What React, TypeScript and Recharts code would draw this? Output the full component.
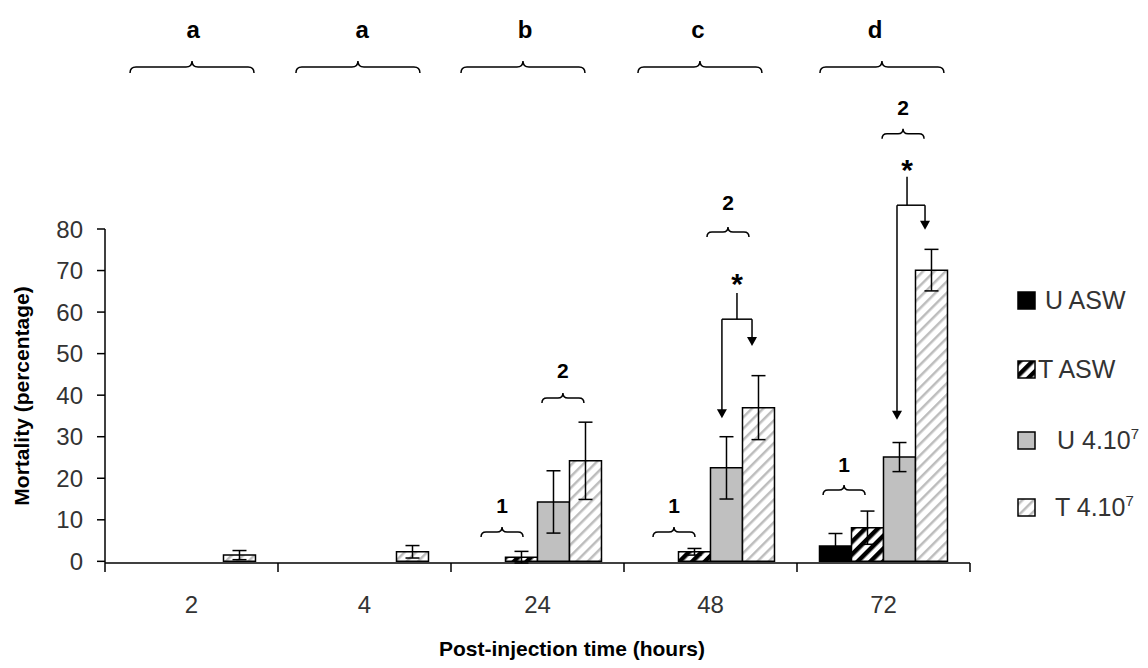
import React from 'react';
import { BarChart, Bar, XAxis, YAxis, ErrorBar, Customized } from 'recharts';

// ---------- data ----------
const categories = ['2', '4', '24', '48', '72'];
const uAswValues = [0, 0, 0, 0, 3.7];
const uAswErrors = [0, 0, 0, 0, 3.0];
const tAswValues = [0, 0, 1.0, 2.3, 8.1];
const tAswErrors = [0, 0, 1.4, 0.8, 4.0];
const u4Values = [0, 0, 14.3, 22.5, 25.1];
const u4Errors = [0, 0, 7.5, 7.5, 3.5];
const t4Values = [1.5, 2.3, 24.2, 37.0, 70.1];
const t4Errors = [1.1, 1.5, 9.3, 7.7, 5.0];
const yTicks = [0, 10, 20, 30, 40, 50, 60, 70, 80];
const groupLetters = ['a', 'a', 'b', 'c', 'd'];
const groupLetterX = [0.509, 1.486, 2.428, 3.428, 4.451];
const groupBraceX = [0.503, 1.462, 2.416, 3.439, 4.491];
// small bracket annotations: label, x (category units), label baseline value, brace value
const pairLabels = ['1', '2', '1', '2', '1', '2'];
const pairX = [2.295, 2.647, 3.289, 3.601, 4.272, 4.613];
const pairLabelY = [12.0, 44.3, 12.0, 84.6, 21.8, 107.3];
const pairBraceY = [7.4, 39.5, 7.4, 79.3, 17.5, 102.8];
// significance arrows
const starX = [3.653, 4.636];
const starBaseY = [64.4, 91.7];
const stemTopY = [64.7, 92.5];
const junctionY = [58.4, 85.7];
const leftArrowX = [3.566, 4.578];
const leftTipY = [34.7, 34.3];
const rightArrowX = [3.740, 4.740];
const rightTipY = [52.0, 79.8];

const seriesNames = ['U ASW', 'T ASW', 'U 4.10', 'T 4.10'];

const data = categories.map((c, i) => ({
  cat: c,
  uAsw: uAswValues[i],
  uAswErr: uAswErrors[i],
  tAsw: tAswValues[i],
  tAswErr: tAswErrors[i],
  u4: u4Values[i],
  u4Err: u4Errors[i],
  t4: t4Values[i],
  t4Err: t4Errors[i],
}));

// ---------- layout ----------
const W = 1132;
const H = 652;
const PLOT_L = 97;
const PLOT_R = 962;
const PLOT_T = 221;
const PLOT_B = 555;
const Y_MAX = 80;
const X_AXIS_H = 40;
const FONT = '"Liberation Sans", Arial, sans-serif';

const xPos = (u: number) => PLOT_L + (u * (PLOT_R - PLOT_L)) / categories.length;
const yPos = (v: number) => PLOT_B - (v * (PLOT_B - PLOT_T)) / Y_MAX;

const bracePath = (cx: number, y: number, hw: number, c: number) =>
  `M ${cx - hw} ${y + c} Q ${cx - hw} ${y} ${cx - hw + c} ${y} L ${cx - c} ${y} Q ${cx} ${y} ${cx} ${y - c} ` +
  `Q ${cx} ${y} ${cx + c} ${y} L ${cx + hw - c} ${y} Q ${cx + hw} ${y} ${cx + hw} ${y + c}`;

const arrowHead = (x: number, tipY: number) =>
  `${x - 5},${tipY - 9} ${x + 5},${tipY - 9} ${x},${tipY}`;

const Annotations = () => {
  const bw = (PLOT_R - PLOT_L) / categories.length;
  return (
    <g>
      {/* category boundary ticks */}
      {categories.concat(['']).map((_, i) => (
        <line key={`bt${i}`} x1={PLOT_L + i * bw} x2={PLOT_L + i * bw} y1={PLOT_B} y2={PLOT_B + 9} stroke="#000" strokeWidth={1.5} />
      ))}
      {/* group letters and braces */}
      {groupLetters.map((l, i) => (
        <g key={`g${i}`}>
          <text x={xPos(groupLetterX[i])} y={yPos(125.7)} textAnchor="middle" fontSize={24} fontWeight="bold" fontFamily={FONT} fill="#000">{l}</text>
          <path d={bracePath(xPos(groupBraceX[i]), yPos(118.8), 62, 6)} fill="none" stroke="#000" strokeWidth={1.5} />
        </g>
      ))}
      {/* pair labels */}
      {pairLabels.map((l, i) => (
        <g key={`p${i}`}>
          <text x={xPos(pairX[i])} y={yPos(pairLabelY[i])} textAnchor="middle" fontSize={21} fontWeight="bold" fontFamily={FONT} fill="#000">{l}</text>
          <path d={bracePath(xPos(pairX[i]), yPos(pairBraceY[i]), 21, 5)} fill="none" stroke="#000" strokeWidth={1.5} />
        </g>
      ))}
      {/* significance arrows */}
      {starX.map((sx, i) => (
        <g key={`s${i}`}>
          <text x={xPos(sx)} y={yPos(starBaseY[i])} textAnchor="middle" fontSize={30} fontWeight="bold" fontFamily={FONT} fill="#000">*</text>
          <line x1={xPos(sx)} x2={xPos(sx)} y1={yPos(stemTopY[i])} y2={yPos(junctionY[i])} stroke="#000" strokeWidth={1.5} />
          <line x1={xPos(leftArrowX[i])} x2={xPos(rightArrowX[i])} y1={yPos(junctionY[i])} y2={yPos(junctionY[i])} stroke="#000" strokeWidth={1.5} />
          <line x1={xPos(leftArrowX[i])} x2={xPos(leftArrowX[i])} y1={yPos(junctionY[i])} y2={yPos(leftTipY[i]) - 8} stroke="#000" strokeWidth={1.5} />
          <line x1={xPos(rightArrowX[i])} x2={xPos(rightArrowX[i])} y1={yPos(junctionY[i])} y2={yPos(rightTipY[i]) - 8} stroke="#000" strokeWidth={1.5} />
          <polygon points={arrowHead(xPos(leftArrowX[i]), yPos(leftTipY[i]))} fill="#000" />
          <polygon points={arrowHead(xPos(rightArrowX[i]), yPos(rightTipY[i]))} fill="#000" />
        </g>
      ))}
      {/* axis titles */}
      <text x={21} y={(PLOT_T + PLOT_B) / 2} transform={`rotate(-90, 21, ${(PLOT_T + PLOT_B) / 2})`} textAnchor="middle" fontSize={21} fontWeight="bold" fontFamily={FONT} fill="#000">Mortality (percentage)</text>
      <text x={564} y={648} textAnchor="middle" fontSize={21} fontWeight="bold" fontFamily={FONT} fill="#000">Post-injection time (hours)</text>
      {/* legend */}
      {seriesNames.map((n, i) => {
        const cy = [292, 361, 432, 499][i];
        const tx = [1037, 1030, 1049, 1047][i];
        const fills = ['#000', 'url(#hatchBold)', '#c0c0c0', 'url(#hatchLight)'];
        return (
          <g key={`l${i}`}>
            <rect x={1010} y={cy - 8} width={17} height={17} fill={fills[i]} stroke="#000" strokeWidth={1.5} />
            <text x={tx} y={cy + 9} fontSize={25} fontFamily={FONT} fill="#333">
              {n}
              {i >= 2 ? <tspan dy={-10} fontSize={15}>7</tspan> : null}
            </text>
          </g>
        );
      })}
    </g>
  );
};

export default function App() {
  return (
    <div style={{ width: W, height: H, fontFamily: FONT, background: '#fff' }}>
      <svg width={0} height={0} style={{ position: 'absolute' }}>
        <defs>
          <pattern id="hatchBold" patternUnits="userSpaceOnUse" width="9" height="9" patternTransform="rotate(45)">
            <rect width="9" height="9" fill="#fff" />
            <rect x="0" y="0" width="4.5" height="9" fill="#000" />
          </pattern>
          <pattern id="hatchLight" patternUnits="userSpaceOnUse" width="8" height="8" patternTransform="rotate(45)">
            <rect width="8" height="8" fill="#fff" />
            <rect x="0" y="0" width="2.5" height="8" fill="#bdbdbd" />
          </pattern>
        </defs>
      </svg>
      <BarChart
        width={W}
        height={H}
        data={data}
        margin={{ top: PLOT_T, right: W - PLOT_R, bottom: H - PLOT_B - X_AXIS_H, left: 0 }}
        barCategoryGap="13%"
        barGap={0}
      >
        <XAxis
          dataKey="cat"
          height={X_AXIS_H}
          interval={0}
          axisLine={{ stroke: '#000', strokeWidth: 1.5 }}
          tickLine={false}
          tickSize={6}
          tickMargin={27}
          tick={{ fontSize: 24, fill: '#333', fontFamily: FONT }}
        />
        <YAxis
          width={PLOT_L}
          domain={[0, Y_MAX]}
          ticks={yTicks}
          interval={0}
          axisLine={{ stroke: '#000', strokeWidth: 1.5 }}
          tickLine={{ stroke: '#000', strokeWidth: 1.5 }}
          tickSize={8}
          tickMargin={14}
          tick={{ fontSize: 24, fill: '#333', fontFamily: FONT }}
        />
        <Bar dataKey="uAsw" fill="#000" stroke="#000" strokeWidth={1.5} isAnimationActive={false}>
          <ErrorBar dataKey="uAswErr" width={7} stroke="#000" strokeWidth={1.5} />
        </Bar>
        <Bar dataKey="tAsw" fill="url(#hatchBold)" stroke="#000" strokeWidth={1.5} isAnimationActive={false}>
          <ErrorBar dataKey="tAswErr" width={7} stroke="#000" strokeWidth={1.5} />
        </Bar>
        <Bar dataKey="u4" fill="#c0c0c0" stroke="#000" strokeWidth={1.5} isAnimationActive={false}>
          <ErrorBar dataKey="u4Err" width={7} stroke="#000" strokeWidth={1.5} />
        </Bar>
        <Bar dataKey="t4" fill="url(#hatchLight)" stroke="#000" strokeWidth={1.5} isAnimationActive={false}>
          <ErrorBar dataKey="t4Err" width={7} stroke="#000" strokeWidth={1.5} />
        </Bar>
        <Customized component={Annotations} />
      </BarChart>
    </div>
  );
}
